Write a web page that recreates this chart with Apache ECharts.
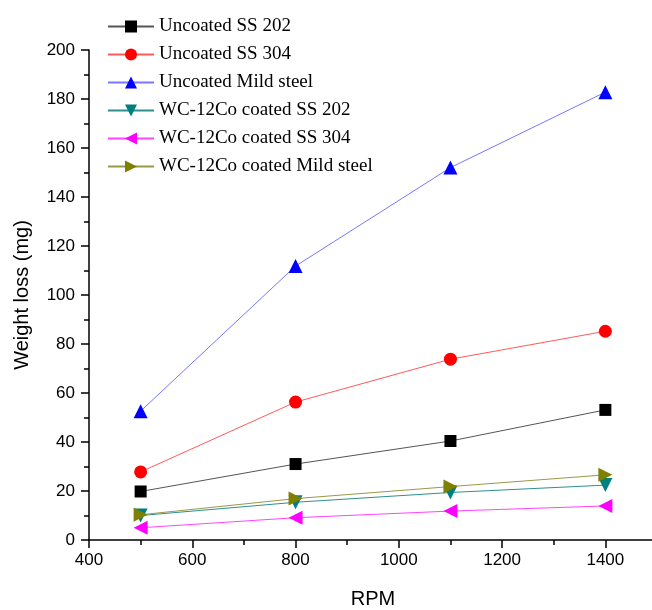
<!DOCTYPE html>
<html>
<head>
<meta charset="utf-8">
<script src="https://cdn.jsdelivr.net/npm/echarts@6/dist/echarts.min.js"></script>
<style>
  html, body { margin: 0; padding: 0; background: #fff; }
  #chart { width: 652px; height: 610px; }
</style>
</head>
<body>
<div id="chart"></div>
<script>
// RPM values on x axis
const rpm = [500, 800, 1100, 1400];

// weight loss (mg) per series
const uncoatedSS202 = [19.8, 31.0, 40.4, 53.1];
const uncoatedSS304 = [27.8, 56.3, 73.8, 85.2];
const uncoatedMild = [52.6, 111.8, 152.0, 182.8];
const coatedSS202 = [10.0, 15.4, 19.4, 22.4];
const coatedSS304 = [5.0, 9.1, 11.8, 13.9];
const coatedMild = [10.3, 16.9, 21.8, 26.6];

const seriesNames = [
    'Uncoated SS 202',
    'Uncoated SS 304',
    'Uncoated Mild steel',
    'WC-12Co coated SS 202',
    'WC-12Co coated SS 304',
    'WC-12Co coated Mild steel'
];

const pair = (vals) => rpm.map((x, i) => [x, vals[i]]);

// marker colour, line colour, symbol, rotation
const styles = [
    { c: '#000000', l: '#555555', s: 'rect', r: 0 },
    { c: '#ff0000', l: '#ff5a5a', s: 'circle', r: 0 },
    { c: '#0000ff', l: '#7777ff', s: 'triangle', r: 0 },
    { c: '#007f7f', l: '#2f8f8f', s: 'triangle', r: 180 },
    { c: '#ff00ff', l: '#ff44ff', s: 'triangle', r: 90 },
    { c: '#7f7f00', l: '#99994a', s: 'triangle', r: -90 }
];

const allData = [uncoatedSS202, uncoatedSS304, uncoatedMild, coatedSS202, coatedSS304, coatedMild];

const chart = echarts.init(document.getElementById('chart'), null, { renderer: 'canvas' });

const axisFont = { fontFamily: 'Liberation Sans', fontSize: 17, color: '#000' };

chart.setOption({
    animation: false,
    backgroundColor: '#fff',
    legend: {
        left: 102,
        top: 12,
        orient: 'vertical',
        itemWidth: 46,
        itemHeight: 15,
        itemGap: 9,
        textStyle: { fontFamily: 'Liberation Serif', fontSize: 19, color: '#000' },
        data: seriesNames
    },
    grid: { left: 89, right: -5, top: 50, bottom: 70, outerBoundsMode: 'none', containLabel: false },
    xAxis: {
        type: 'value',
        min: 400,
        max: 1500,
        interval: 200,
        name: 'RPM',
        nameLocation: 'middle',
        nameGap: 49,
        nameTextStyle: { fontFamily: 'Liberation Sans', fontSize: 20, color: '#000' },
        axisLine: { lineStyle: { color: '#000', width: 1.5 } },
        axisTick: { inside: false, length: 8, lineStyle: { color: '#000', width: 1.5 } },
        minorTick: { show: true, splitNumber: 2, length: 5, lineStyle: { color: '#000', width: 1.5 } },
        axisLabel: Object.assign({ margin: 12, showMaxLabel: false, formatter: (v) => String(v) }, axisFont),
        splitLine: { show: false }
    },
    yAxis: {
        type: 'value',
        min: 0,
        max: 200,
        interval: 20,
        name: 'Weight loss (mg)',
        nameLocation: 'middle',
        nameGap: 57,
        nameTextStyle: { fontFamily: 'Liberation Sans', fontSize: 20, color: '#000' },
        axisLine: { show: true, lineStyle: { color: '#000', width: 1.5 } },
        axisTick: { show: true, inside: false, length: 8, lineStyle: { color: '#000', width: 1.5 } },
        minorTick: { show: true, splitNumber: 2, length: 5, lineStyle: { color: '#000', width: 1.5 } },
        axisLabel: Object.assign({ margin: 14, formatter: (v) => String(v) }, axisFont),
        splitLine: { show: false }
    },
    series: seriesNames.map((name, i) => ({
        name: name,
        type: 'line',
        data: pair(allData[i]),
        symbol: styles[i].s,
        symbolRotate: styles[i].r,
        symbolSize: styles[i].s === 'rect' ? 12 : (styles[i].s === 'circle' ? 13 : 14),
        z: 2 + i,
        itemStyle: { color: styles[i].c },
        lineStyle: { color: styles[i].l, width: 1 },
        emphasis: { disabled: true }
    }))
});
</script>
</body>
</html>
